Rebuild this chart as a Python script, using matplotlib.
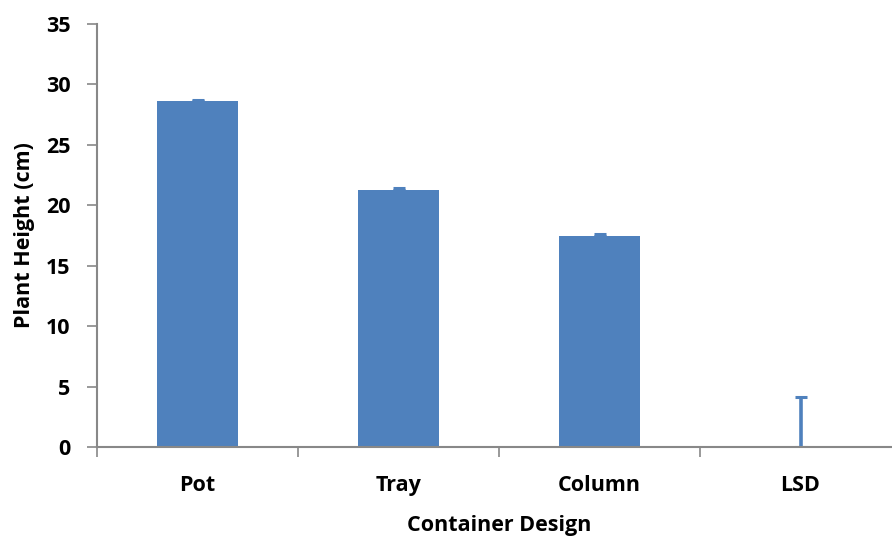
import matplotlib.pyplot as plt
import numpy as np

plt.rcParams['font.family'] = ['Open Sans', 'DejaVu Sans']
plt.rcParams['font.weight'] = 'bold'

designs = ['Pot', 'Tray', 'Column', 'LSD']
height = [28.6, 21.3, 17.5, 0.0]
err = [0.1, 0.1, 0.1, 4.1]

blue = '#4F81BD'
grey = '#888888'
fs = 15.5

fig = plt.figure(figsize=(8.92, 5.37), dpi=100)
# axes runs a little past the right edge, like the original export
ax = fig.add_axes([97 / 892, 90 / 537, 804 / 892, 423 / 537])

x = np.arange(len(designs))
ax.bar(x, height, width=0.4, color=blue)
ax.errorbar(x, height, yerr=[np.zeros(len(err)), err], fmt='none',
            ecolor=blue, elinewidth=2.6, capsize=4.5, capthick=2.2)

ax.set_xlim(-0.5, 3.5)
ax.set_ylim(0, 35)
ax.set_yticks(np.arange(0, 36, 5))

# category boundaries as major ticks, names on minor ticks
ax.set_xticks(np.arange(-0.5, 4.0, 1.0))
ax.set_xticklabels([])
ax.set_xticks(x, minor=True)
ax.set_xticklabels(designs, minor=True, fontsize=fs, fontweight='bold')
ax.tick_params(axis='x', which='minor', length=0, pad=20)
ax.tick_params(axis='x', which='major', length=7, width=1.2, color=grey)
ax.tick_params(axis='y', length=7, width=1.2, color=grey, pad=12, labelsize=fs)
for lbl in ax.get_yticklabels():
    lbl.set_fontweight('bold')

for s in ['top', 'right']:
    ax.spines[s].set_visible(False)
for s in ['left', 'bottom']:
    ax.spines[s].set_color(grey)
    ax.spines[s].set_linewidth(1.5)

ax.set_xlabel('Container Design', fontsize=fs, fontweight='bold', labelpad=14)
ax.set_ylabel('Plant Height (cm)', fontsize=fs, fontweight='bold', labelpad=8)

fig.savefig('out.png', dpi=100)
